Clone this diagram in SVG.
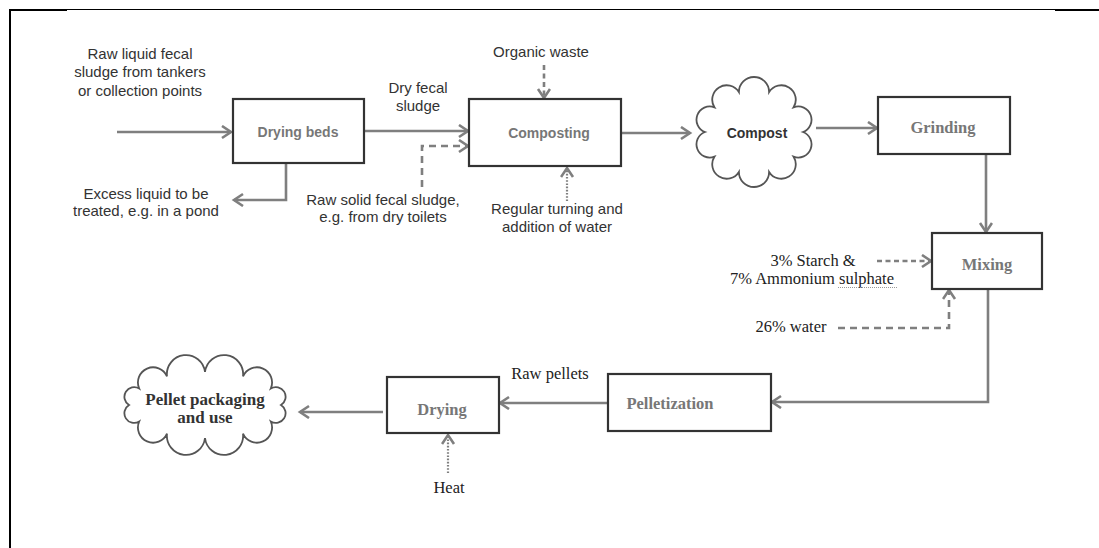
<svg xmlns="http://www.w3.org/2000/svg" width="1099" height="548" viewBox="0 0 1099 548">
<style>
.box{fill:#fff;stroke:#333;stroke-width:2.2}
.cloud{fill:#fff;stroke:#555;stroke-width:1.8}
.c{fill:none;stroke:#7f7f7f;stroke-width:2.6}
.dash{stroke-dasharray:7 5}
.dash2{stroke-dasharray:5 3.5}
.dot{stroke-dasharray:1.6 1.6;stroke-width:2.2}
.sl{font-family:"Liberation Sans",Arial,sans-serif;font-size:15px;fill:#333;text-anchor:middle}
.sb{font-family:"Liberation Sans",Arial,sans-serif;font-size:14px;font-weight:bold;fill:#777;text-anchor:middle}
.sr{font-family:"Liberation Serif","Times New Roman",serif;font-size:16.5px;fill:#222;text-anchor:middle}
.srb{font-family:"Liberation Serif","Times New Roman",serif;font-size:16.5px;font-weight:bold;fill:#777;text-anchor:middle}
</style>
<defs>
<marker id="ah" markerUnits="userSpaceOnUse" markerWidth="14" markerHeight="16" refX="11" refY="7" orient="auto">
<path d="M2,1 L11,7 L2,13" fill="none" stroke="#7f7f7f" stroke-width="2.6"/>
</marker>
</defs>
<rect width="1099" height="548" fill="#fff"/>
<g id="frame" stroke="#000" fill="none">
<line x1="10" y1="9.5" x2="1099" y2="9.5" stroke-width="1.2"/>
<line x1="10" y1="10" x2="67" y2="10" stroke-width="2"/>
<line x1="1055" y1="10" x2="1099" y2="10" stroke-width="2"/>
<line x1="10" y1="9" x2="10" y2="548" stroke-width="2"/>
</g>
<g id="connectors">
<path class="c" d="M117,132 H231" marker-end="url(#ah)"/>
<path class="c" d="M286,164 V200 H234" marker-end="url(#ah)"/>
<path class="c" d="M365,131 H468" marker-end="url(#ah)"/>
<path class="c dash" d="M422,187 V146 H468" marker-end="url(#ah)"/>
<path class="c dash2" d="M544,65 V98" marker-end="url(#ah)"/>
<path class="c dot" d="M567,201 V168" marker-end="url(#ah)"/>
<path class="c" d="M622,133 H690" marker-end="url(#ah)"/>
<path class="c" d="M816,128 H877" marker-end="url(#ah)"/>
<path class="c" d="M986,155 V232" marker-end="url(#ah)"/>
<path class="c dash2" d="M877,261 H931" marker-end="url(#ah)"/>
<path class="c dash" d="M838,328 H949 V290" marker-end="url(#ah)"/>
<path class="c" d="M988,290 V402 H772" marker-end="url(#ah)"/>
<path class="c" d="M607,403 H500" marker-end="url(#ah)"/>
<path class="c" d="M383,412 H300" marker-end="url(#ah)"/>
<path class="c dot" d="M448,473 V435" marker-end="url(#ah)"/>
</g>
<g id="src-liquid">
<text class="sl" x="140" y="59">Raw liquid fecal</text>
<text class="sl" x="140" y="77">sludge from tankers</text>
<text class="sl" x="140" y="96">or collection points</text>
</g>
<g id="excess">
<text class="sl" x="146" y="199">Excess liquid to be</text>
<text class="sl" x="146" y="216">treated, e.g. in a pond</text>
</g>
<g id="drying-beds">
<rect class="box" x="233" y="99" width="131" height="64"/>
<text class="sb" x="298" y="137">Drying beds</text>
</g>
<g id="dry-label">
<text class="sl" x="418" y="93">Dry fecal</text>
<text class="sl" x="418" y="111">sludge</text>
</g>
<g id="raw-solid">
<text class="sl" x="383" y="205">Raw solid fecal sludge,</text>
<text class="sl" x="383" y="222">e.g. from dry toilets</text>
</g>
<g id="organic">
<text class="sl" x="541" y="57">Organic waste</text>
</g>
<g id="composting">
<rect class="box" x="469" y="99" width="152" height="67"/>
<text class="sb" x="549" y="138">Composting</text>
</g>
<g id="turning">
<text class="sl" x="557" y="214">Regular turning and</text>
<text class="sl" x="557" y="232">addition of water</text>
</g>
<g id="compost">
<path class="cloud" d="M803,132 A1,1 0 0 1 793.6,156.7 A1,1 0 0 1 769.1,171.9 A1,1 0 0 1 738.9,171.9 A1,1 0 0 1 714.4,156.7 A1,1 0 0 1 705,132 A1,1 0 0 1 714.4,107.3 A1,1 0 0 1 738.9,92.1 A1,1 0 0 1 769.1,92.1 A1,1 0 0 1 793.6,107.3 A1,1 0 0 1 803,132 Z"/>
<text class="sb" x="757" y="138" style="fill:#333">Compost</text>
</g>
<g id="grinding">
<rect class="box" x="878" y="97" width="132" height="57"/>
<text class="srb" x="943" y="133">Grinding</text>
</g>
<g id="additives">
<text class="sr" x="813" y="266">3% Starch &amp;</text>
<text class="sr" x="812" y="284">7% Ammonium sulphate</text>
<line x1="838" y1="287.5" x2="897" y2="287.5" stroke="#999" stroke-width="1" stroke-dasharray="1 1"/>
</g>
<g id="water">
<text class="sr" x="791" y="332">26% water</text>
</g>
<g id="mixing">
<rect class="box" x="932" y="233" width="110" height="56"/>
<text class="srb" x="987" y="270">Mixing</text>
</g>
<g id="pelletization">
<rect class="box" x="608" y="374" width="163" height="57"/>
<text class="srb" x="670" y="409">Pelletization</text>
</g>
<g id="raw-pellets">
<text class="sr" x="550" y="379">Raw pellets</text>
</g>
<g id="drying">
<rect class="box" x="387" y="377" width="112" height="56"/>
<text class="srb" x="442" y="415">Drying</text>
</g>
<g id="heat">
<text class="sr" x="449" y="493">Heat</text>
</g>
<g id="pellet-use">
<path class="cloud" d="M281,405 A1,1 0 0 1 270.8,421.5 A1,1 0 0 1 243,433.6 A1,1 0 0 1 205,438 A1,1 0 0 1 167,433.6 A1,1 0 0 1 139.2,421.5 A1,1 0 0 1 129,405 A1,1 0 0 1 139.2,388.5 A1,1 0 0 1 167,376.4 A1,1 0 0 1 205,372 A1,1 0 0 1 243,376.4 A1,1 0 0 1 270.8,388.5 A1,1 0 0 1 281,405 Z"/>
<text class="srb" x="205" y="405" style="fill:#333;font-size:17px">Pellet packaging</text>
<text class="srb" x="205" y="423" style="fill:#333;font-size:17px">and use</text>
</g>
</svg>
